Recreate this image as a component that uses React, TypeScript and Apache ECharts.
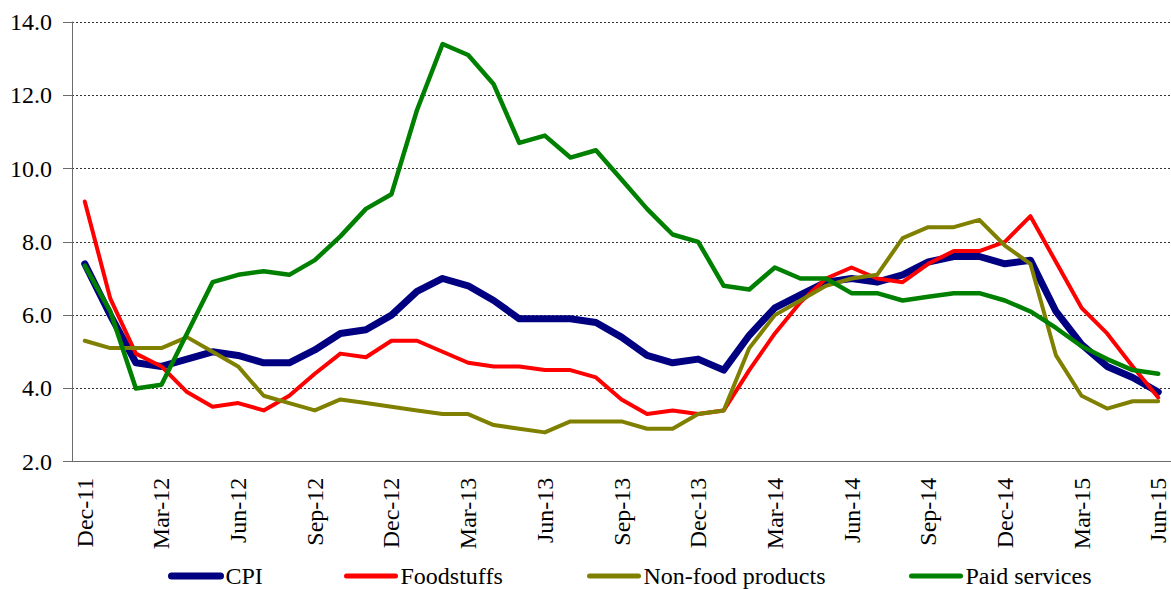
import React, { useEffect, useRef } from "react";
import * as echarts from "echarts";

const months = [
  "Dec-11","Jan-12","Feb-12","Mar-12","Apr-12","May-12","Jun-12","Jul-12","Aug-12","Sep-12","Oct-12","Nov-12",
  "Dec-12","Jan-13","Feb-13","Mar-13","Apr-13","May-13","Jun-13","Jul-13","Aug-13","Sep-13","Oct-13","Nov-13",
  "Dec-13","Jan-14","Feb-14","Mar-14","Apr-14","May-14","Jun-14","Jul-14","Aug-14","Sep-14","Oct-14","Nov-14",
  "Dec-14","Jan-15","Feb-15","Mar-15","Apr-15","May-15","Jun-15",
];

const cpi = [
  7.4, 6.0, 4.7, 4.6, 4.8, 5.0, 4.9, 4.7, 4.7, 5.05, 5.5, 5.6,
  6.0, 6.65, 7.0, 6.8, 6.4, 5.9, 5.9, 5.9, 5.8, 5.4, 4.9, 4.7,
  4.8, 4.5, 5.45, 6.2, 6.55, 6.9, 7.0, 6.9, 7.1, 7.45, 7.6, 7.6,
  7.4, 7.5, 6.1, 5.2, 4.6, 4.3, 3.9,
];

const foodstuffs = [
  9.1, 6.45, 4.95, 4.6, 3.9, 3.5, 3.6, 3.4, 3.8, 4.4, 4.95, 4.85,
  5.3, 5.3, 5.0, 4.7, 4.6, 4.6, 4.5, 4.5, 4.3, 3.7, 3.3, 3.4,
  3.3, 3.4, 4.5, 5.5, 6.35, 7.0, 7.3, 7.0, 6.9, 7.4, 7.75, 7.75,
  8.0, 8.7, 7.45, 6.2, 5.5, 4.6, 3.75,
];

const nonFood = [
  5.3, 5.1, 5.1, 5.1, 5.4, 5.0, 4.6, 3.8, 3.6, 3.4, 3.7, 3.6,
  3.5, 3.4, 3.3, 3.3, 3.0, 2.9, 2.8, 3.1, 3.1, 3.1, 2.9, 2.9,
  3.3, 3.4, 5.1, 6.0, 6.4, 6.8, 7.0, 7.1, 8.1, 8.4, 8.4, 8.6,
  7.9, 7.4, 4.9, 3.8, 3.45, 3.65, 3.65,
];

const paidServices = [
  7.35, 6.1, 4.0, 4.1, 5.5, 6.9, 7.1, 7.2, 7.1, 7.5, 8.15, 8.9,
  9.3, 11.6, 13.4, 13.1, 12.3, 10.7, 10.9, 10.3, 10.5, 9.7, 8.9, 8.2,
  8.0, 6.8, 6.7, 7.3, 7.0, 7.0, 6.6, 6.6, 6.4, 6.5, 6.6, 6.6,
  6.4, 6.1, 5.65, 5.15, 4.8, 4.5, 4.4,
];

const seriesNames = ["CPI", "Foodstuffs", "Non-food products", "Paid services"];
const seriesColors = ["#000080", "#ff0000", "#808000", "#008000"];
const seriesWidths = [7, 4, 4, 4.5];
const legendLefts = [168, 344, 587, 909];

const yTicks = { min: 2, max: 14, interval: 2 };

const FONT = "'Times New Roman', 'Liberation Serif', 'DejaVu Serif', serif";

export default function App() {
  const ref = useRef<HTMLDivElement>(null);
  useEffect(() => {
    document.body.style.margin = "0";
    if (!ref.current) return;
    const chart = echarts.init(ref.current, undefined, { renderer: "svg" });
    const values = [cpi, foodstuffs, nonFood, paidServices];
    chart.setOption({
      animation: false,
      backgroundColor: "#ffffff",
      textStyle: { fontFamily: FONT },
      grid: { left: 72, top: 22, width: 1106.7, height: 439.7, containLabel: false },
      xAxis: {
        type: "category",
        data: months,
        boundaryGap: true,
        axisLine: { lineStyle: { color: "#6b6b6b", width: 1 } },
        axisTick: { interval: 2, length: 8, lineStyle: { color: "#6b6b6b" } },
        axisLabel: {
          interval: 2,
          rotate: 90,
          margin: 16,
          color: "#000",
          fontFamily: FONT,
          fontSize: 24,
        },
        splitLine: { show: false },
      },
      yAxis: {
        type: "value",
        min: yTicks.min,
        max: yTicks.max,
        interval: yTicks.interval,
        axisLine: { show: true, lineStyle: { color: "#6b6b6b", width: 1 } },
        axisTick: { show: true, length: 9, lineStyle: { color: "#6b6b6b" } },
        axisLabel: {
          margin: 20,
          color: "#000",
          fontFamily: FONT,
          fontSize: 24,
          formatter: (v: number) => v.toFixed(1),
        },
        splitLine: { show: true, lineStyle: { color: "#333", type: [2, 2], width: 1 } },
      },
      legend: seriesNames.map((name, i) => ({
        left: legendLefts[i],
        top: 564,
        itemWidth: 49,
        itemHeight: 12,
        padding: 0,
        itemGap: 0,
        itemStyle: { opacity: 0 },
        textStyle: { color: "#000", fontFamily: FONT, fontSize: 24 },
        data: [
          {
            name,
            lineStyle: { width: i === 0 ? 7 : 5, color: seriesColors[i], cap: "round" },
          },
        ],
      })),
      series: seriesNames.map((name, i) => ({
        name,
        type: "line",
        data: values[i],
        symbol: "none",
        showSymbol: false,
        lineStyle: { color: seriesColors[i], width: seriesWidths[i], cap: "round", join: "round" },
        itemStyle: { color: seriesColors[i] },
        emphasis: { disabled: true },
      })),
    });
    return () => chart.dispose();
  }, []);
  return <div ref={ref} style={{ width: 1171, height: 589 }} />;
}
